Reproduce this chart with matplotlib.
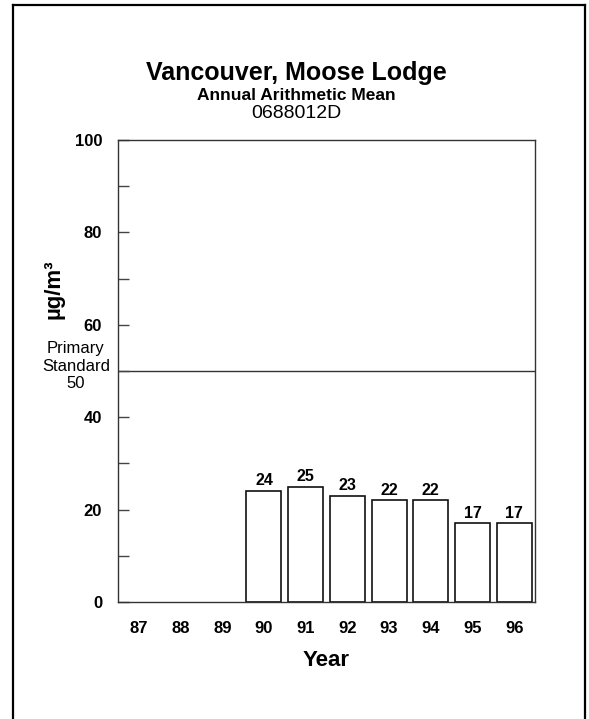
import numpy as np
import matplotlib
matplotlib.use("Agg")
import matplotlib.pyplot as plt
from matplotlib.lines import Line2D

plt.rcParams['font.family'] = ['Liberation Sans', 'DejaVu Sans']

years = ['87', '88', '89', '90', '91', '92', '93', '94', '95', '96']
values = [np.nan, np.nan, np.nan, 24, 25, 23, 22, 22, 17, 17]
standard = 50
title = 'Vancouver, Moose Lodge'
subtitle = 'Annual Arithmetic Mean'
site = '0688012D'

W, H = 589, 719
fig = plt.figure(figsize=(W / 100, H / 100), dpi=100)
ax = fig.add_axes([118 / W, 1 - 602 / H, (535 - 118) / W, (602 - 140) / H])

x = np.arange(len(years))
vals = np.array(values, dtype=float)
mask = ~np.isnan(vals)
ax.bar(x[mask], vals[mask], width=0.84, facecolor='white',
       edgecolor='#111111', linewidth=1.2, zorder=2)
for xi, v in zip(x[mask], vals[mask]):
    ax.text(xi, v + 0.6, f'{int(v)}', ha='center', va='bottom',
            fontsize=11.5, fontweight='bold')

ax.axhline(standard, color='#333333', linewidth=1.0, zorder=1)

ax.set_xlim(-0.5, len(years) - 0.5)
ax.set_ylim(0, 100)
ax.set_xticks(x)
ax.set_xticklabels(years, fontsize=12, fontweight='bold')
ax.tick_params(axis='x', length=0, pad=14)
ax.set_yticks(np.arange(0, 101, 20))
ax.set_yticklabels([str(v) for v in range(0, 101, 20)], fontsize=12, fontweight='bold')
ax.set_yticks(np.arange(10, 100, 20), minor=True)
ax.tick_params(axis='y', which='both', direction='in', length=8, width=1,
               color='#444444', pad=11.5)
for s in ax.spines.values():
    s.set_color('#333333')
    s.set_linewidth(1.0)

ax.set_xlabel('Year', fontsize=16, fontweight='bold', labelpad=10)

fig.text(54 / W, 1 - 289 / H, 'µg/m³', rotation=90, ha='center', va='center',
         fontsize=16, fontweight='bold')
for label, yy in zip(['Primary', 'Standard', f'{standard}'], [349, 366, 383]):
    fig.text(76 / W, 1 - yy / H, label, ha='center', va='center', fontsize=12)

cx = 296 / W
fig.text(cx, 1 - 73 / H, title, ha='center', va='center',
         fontsize=18, fontweight='bold')
fig.text(cx, 1 - 95 / H, subtitle, ha='center', va='center',
         fontsize=12.5, fontweight='bold')
fig.text(cx, 1 - 113 / H, site, ha='center', va='center', fontsize=14)

# page border (left, top, right)
lx, rx, ty = 13 / W, 585 / W, 1 - 5 / H
for xs, ys in [([lx, lx], [-0.01, ty]), ([lx, rx], [ty, ty]), ([rx, rx], [ty, -0.01])]:
    fig.add_artist(Line2D(xs, ys, transform=fig.transFigure, color='black', linewidth=1.6))

fig.savefig('out.png', dpi=100)
